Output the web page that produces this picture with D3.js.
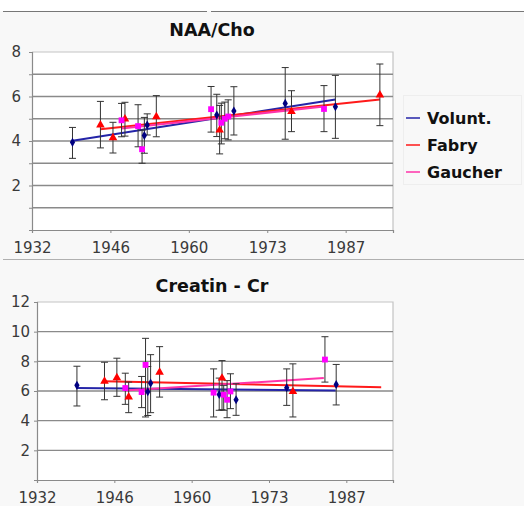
<!DOCTYPE html>
<html><head><meta charset="utf-8">
<script src="https://cdn.jsdelivr.net/npm/d3@7"></script>
<style>
body{margin:0;background:#fff}
svg{display:block}
text{font-family:"DejaVu Sans",Verdana,sans-serif}
</style>
</head><body>
<svg id="c" width="524" height="506"></svg>
<script>
// ---------- data ----------
const seriesNames = ["Volunt.", "Fabry", "Gaucher"];
const xTickValues = [1932, 1945.75, 1959.5, 1973.25, 1987];
const xTickLabels = ["1932", "1946", "1960", "1973", "1987"];
const naaYTicks = [0, 1, 2, 3, 4, 5, 6, 7, 8];
const crYTicks = [0, 2, 4, 6, 8, 10, 12];

const yearsVol = [1939.1, 1951.7, 1952.2, 1964.4, 1967.4, 1976.4, 1985.2];
const yearsFab = [1944.0, 1946.2, 1948.3, 1953.8, 1964.9, 1977.5, 1993.0];
const yearsGau = [1947.7, 1950.6, 1951.3, 1963.4, 1965.2, 1965.8, 1966.4, 1983.2];

// NAA/Cho
const naaVol   = [3.94, 4.25, 4.72, 5.17, 5.35, 5.69, 5.54];
const naaVolLo = [3.22, 3.45, 4.27, 4.20, 4.27, 4.08, 4.12];
const naaVolHi = [4.61, 5.06, 5.22, 6.10, 6.44, 7.30, 6.95];
const naaFab   = [4.72, 4.15, 4.99, 5.09, 4.49, 5.32, 6.07];
const naaFabLo = [3.69, 3.46, 4.22, 4.19, 3.42, 4.42, 4.69];
const naaFabHi = [5.78, 4.84, 5.74, 6.04, 5.60, 6.26, 7.46];
const naaGau   = [4.93, 4.67, 3.63, 5.43, 4.82, 5.00, 5.10, 5.44];
const naaGauLo = [4.19, 3.74, 3.00, 4.40, 3.87, 4.10, 4.05, 4.42];
const naaGauHi = [5.69, 5.63, 4.49, 6.45, 5.70, 5.75, 5.85, 6.49];
// trend lines [year, value] start/end
const naaTrendVol = [[1939.1, 4.01], [1985.2, 5.87]];
const naaTrendFab = [[1944.0, 4.53], [1993.0, 5.87]];
const naaTrendGau = [[1947.7, 4.56], [1983.2, 5.55]];

// Creatin - Cr
const crVol   = [6.38, 5.95, 6.53, 5.77, 5.41, 6.22, 6.44];
const crVolLo = [4.99, 4.35, 4.54, 4.70, 4.36, 5.03, 5.06];
const crVolHi = [7.67, 7.65, 8.45, 6.87, 6.49, 7.49, 7.79];
const crFab   = [6.66, 6.89, 5.59, 7.27, 6.87, 5.97, null];
const crFabLo = [5.41, 5.64, 4.54, 5.59, 4.74, 4.25, null];
const crFabHi = [7.94, 8.21, 6.60, 8.99, 8.05, 7.83, null];
const crGau   = [6.20, 5.93, 7.76, 5.89, 5.75, 5.41, 5.97, 8.12];
const crGauLo = [5.10, 4.88, 4.25, 4.25, 4.70, 4.20, 4.81, 6.60];
const crGauHi = [7.20, 6.98, 9.55, 7.49, 6.38, 6.70, 7.16, 9.66];
const crTrendVol = [[1939.0, 6.20], [1985.1, 6.04]];
const crTrendFab = [[1943.9, 6.66], [1993.2, 6.25]];
const crTrendGau = [[1947.6, 6.04], [1983.0, 6.87]];

// ---------- styles ----------
const markerColor = ["#000080", "#ff0000", "#ff00ff"];
const trendColor  = ["#2424a8", "#ff1a1a", "#ff33aa"];
const markerShape = [d3.symbolDiamond, d3.symbolTriangle, d3.symbolSquare];
const markerSize  = [24, 32, 34];

const svg = d3.select("#c");
svg.append("rect").attr("x", 0).attr("y", 0).attr("width", 524).attr("height", 506).attr("fill", "#f8f8f8");
svg.append("rect").attr("x", 0).attr("y", 0).attr("width", 524).attr("height", 11).attr("fill", "#ffffff");
// separator lines
svg.append("line").attr("x1", 3).attr("x2", 207).attr("y1", 11.5).attr("y2", 11.5).attr("stroke", "#777");
svg.append("line").attr("x1", 211).attr("x2", 524).attr("y1", 11.5).attr("y2", 11.5).attr("stroke", "#777");
svg.append("line").attr("x1", 3).attr("x2", 524).attr("y1", 259.5).attr("y2", 259.5).attr("stroke", "#b0b0b0");

function panel(cfg) {
  const g = svg.append("g");
  const x = d3.scaleLinear().domain([1932, 1995.3]).range([cfg.left, cfg.right]);
  const y = d3.scaleLinear().domain([0, cfg.ymax]).range([cfg.bottom, cfg.top]);

  g.append("rect").attr("x", cfg.left).attr("y", cfg.top)
    .attr("width", cfg.right - cfg.left).attr("height", cfg.bottom - cfg.top).attr("fill", "#fff");
  // top / right border
  g.append("path").attr("d", `M${cfg.left},${cfg.top}H${cfg.right}V${cfg.bottom}`)
    .attr("fill", "none").attr("stroke", "#c4c4c4").attr("stroke-width", 1.2);
  // gridlines
  g.selectAll(".grid").data(cfg.yTicks.filter(v => v > 0 && v < cfg.ymax)).join("line")
    .attr("x1", cfg.left).attr("x2", cfg.right).attr("y1", d => y(d)).attr("y2", d => y(d))
    .attr("stroke", "#8a8a8a").attr("stroke-width", 1.3);

  // axes
  const ax = g.append("g").attr("transform", `translate(0,${cfg.bottom})`)
    .call(d3.axisBottom(x).tickValues(xTickValues).tickFormat((d, i) => xTickLabels[i])
      .tickSizeOuter(0).tickSize(3).tickPadding(9));
  const ay = g.append("g").attr("transform", `translate(${cfg.left},0)`)
    .call(d3.axisLeft(y).tickValues(cfg.yTicks).tickFormat(d => (d > 0 && d % 2 === 0) ? d : "")
      .tickSizeOuter(0).tickSize(3).tickPadding(cfg.ypad));
  [ax, ay].forEach(a => {
    a.select(".domain").attr("stroke", "#8a8a8a").attr("stroke-width", 1.2);
    a.selectAll(".tick line").attr("stroke", "#8a8a8a");
    a.selectAll("text").attr("fill", "#3a3a3a").style("font-size", "15px")
      .style("font-family", '"DejaVu Sans",Verdana,sans-serif');
  });

  // title
  g.append("text").attr("x", 212).attr("y", cfg.titleY).attr("text-anchor", "middle")
    .style("font-size", "17.5px").style("font-weight", "bold").attr("fill", "#111").text(cfg.title);

  // trend lines
  const line = d3.line().x(d => x(d[0])).y(d => y(d[1]));
  cfg.trends.forEach((t, i) => {
    g.append("path").attr("d", line(t)).attr("fill", "none")
      .attr("stroke", trendColor[i]).attr("stroke-width", 2);
  });

  // error bars + markers
  cfg.series.forEach((s, si) => {
    const pts = s.years.map((yr, k) => ({yr, v: s.v[k], lo: s.lo[k], hi: s.hi[k]})).filter(p => p.v != null);
    const eb = g.append("g").attr("stroke", "#333").attr("stroke-width", 1).attr("fill", "none");
    pts.forEach(p => {
      const px = x(p.yr);
      eb.append("path").attr("d",
        `M${px},${y(p.lo)}V${y(p.hi)}M${px - 3.5},${y(p.hi)}H${px + 3.5}M${px - 3.5},${y(p.lo)}H${px + 3.5}`);
    });
  });
  cfg.series.forEach((s, si) => {
    const pts = s.years.map((yr, k) => ({yr, v: s.v[k]})).filter(p => p.v != null);
    g.selectAll(null).data(pts).join("path")
      .attr("transform", p => `translate(${x(p.yr)},${y(p.v)})`)
      .attr("d", d3.symbol().type(markerShape[si]).size(markerSize[si]))
      .attr("fill", markerColor[si]);
  });
}

panel({
  title: "NAA/Cho", titleY: 36, left: 32, right: 393, top: 52, bottom: 230, ymax: 8,
  yTicks: naaYTicks, ypad: 8,
  series: [
    {years: yearsVol, v: naaVol, lo: naaVolLo, hi: naaVolHi},
    {years: yearsFab, v: naaFab, lo: naaFabLo, hi: naaFabHi},
    {years: yearsGau, v: naaGau, lo: naaGauLo, hi: naaGauHi}
  ],
  trends: [naaTrendVol, naaTrendFab, naaTrendGau]
});

panel({
  title: "Creatin - Cr", titleY: 292, left: 37, right: 393, top: 302, bottom: 480, ymax: 12,
  yTicks: crYTicks, ypad: 4,
  series: [
    {years: yearsVol, v: crVol, lo: crVolLo, hi: crVolHi},
    {years: yearsFab, v: crFab, lo: crFabLo, hi: crFabHi},
    {years: yearsGau, v: crGau, lo: crGauLo, hi: crGauHi}
  ],
  trends: [crTrendVol, crTrendFab, crTrendGau]
});

// legend (top chart)
const lg = svg.append("g");
lg.append("rect").attr("x", 403.5).attr("y", 95.5).attr("width", 118).attr("height", 89)
  .attr("fill", "#f8f8f8").attr("stroke", "#eeeeee");
const legendY = [118, 145, 172];
seriesNames.forEach((name, i) => {
  lg.append("line").attr("x1", 406).attr("x2", 420).attr("y1", legendY[i]).attr("y2", legendY[i])
    .attr("stroke", trendColor[i]).attr("stroke-width", 1.5);
  lg.append("text").attr("x", 427).attr("y", legendY[i] + 6)
    .style("font-size", "16px").style("font-weight", "bold").attr("fill", "#111").text(name);
});
</script>
</body></html>
